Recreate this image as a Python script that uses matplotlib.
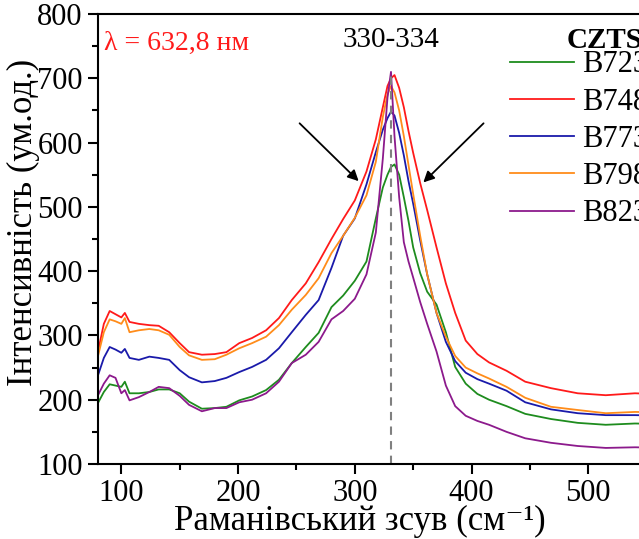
import matplotlib
matplotlib.use("Agg")
import matplotlib.pyplot as plt

plt.rcParams['font.family'] = ['Liberation Serif', 'DejaVu Serif']

# Raman shift, cm-1
x = [80, 85, 90, 95, 100, 103, 107, 115, 124, 132, 141, 150, 158, 169, 180, 190,
     201, 212, 224, 235, 246, 258, 269, 280, 290, 300, 310, 318, 324, 328, 331, 334,
     338, 342, 346, 350, 356, 362, 370, 378, 386, 395, 405, 415, 430, 446, 468, 491,
     515, 540, 570, 600]

b723 = [195, 212, 224, 222, 220, 228, 210, 210, 212, 216, 216, 210, 197, 186, 187, 189,
        199, 205, 215, 231, 257, 282, 304, 344, 362, 385, 415, 482, 530, 550, 562, 566,
        550, 515, 478, 437, 397, 368, 348, 305, 251, 225, 209, 200, 190, 178, 170, 164,
        161, 163, 162, 162]
b748 = [275, 318, 338, 333, 328, 335, 321, 318, 316, 315, 305, 288, 274, 270, 271, 274,
        288, 296, 308, 327, 355, 381, 414, 450, 481, 510, 555, 605, 655, 688, 700, 705,
        685, 655, 618, 584, 537, 495, 437, 381, 335, 292, 271, 258, 245, 228, 218, 210,
        207, 210, 208, 207]
b773 = [238, 265, 282, 278, 273, 279, 265, 262, 267, 265, 262, 246, 235, 227, 229, 234,
        243, 251, 262, 280, 305, 332, 355, 405, 455, 482, 535, 585, 620, 638, 648, 642,
        615, 580, 540, 505, 448, 395, 335, 290, 260, 242, 232, 225, 214, 196, 185, 179,
        176, 176, 175, 175]
b798 = [268, 305, 325, 322, 318, 327, 305, 308, 310, 308, 301, 282, 269, 262, 263, 270,
        280, 288, 298, 316, 340, 363, 389, 428, 455, 483, 518, 570, 640, 675, 688, 678,
        650, 610, 565, 520, 455, 395, 335, 298, 268, 250, 241, 233, 220, 203, 189, 184,
        179, 181, 180, 180]
b823 = [207, 225, 238, 234, 210, 215, 199, 204, 212, 220, 218, 206, 192, 182, 187, 187,
        196, 200, 210, 228, 257, 270, 290, 325, 338, 357, 395, 460, 575, 670, 710, 610,
        515, 445, 415, 390, 352, 318, 275, 222, 190, 175, 167, 161, 150, 140, 133, 128,
        125, 126, 125, 125]

series = [("B723", b723, '#1e8c1e'),
          ("B748", b748, '#ff1a1a'),
          ("B773", b773, '#1a1aaa'),
          ("B798", b798, '#ff8c1a'),
          ("B823", b823, '#8c1a8c')]

fig = plt.figure(figsize=(6.39, 5.39), dpi=100)
ax = fig.add_axes([98 / 639, 75 / 539, 607 / 639, 450 / 539])

for name, y, c in series:
    ax.plot(x, y, color=c, lw=1.3, label=name)

ax.plot([331, 331], [100, 712], color='gray', lw=1.5, ls=(0, (4, 3)))

ax.annotate('', xy=(305, 537), xytext=(251, 633),
            arrowprops=dict(arrowstyle='-|>', color='black', lw=1.3, mutation_scale=16))
ax.annotate('', xy=(357, 535), xytext=(412, 633),
            arrowprops=dict(arrowstyle='-|>', color='black', lw=1.3, mutation_scale=16))

ax.text(331, 760, '330-334', fontsize=21, ha='center', va='center')
ax.text(85, 754, 'λ = 632,8 нм', fontsize=20, color='#ff1a1a', ha='left', va='center')
fig.text(567 / 639, 1 - 40 / 539, 'CZTS', fontsize=21, fontweight='bold',
         ha='left', va='center')

ax.set_xlim(80, 600)
ax.set_ylim(100, 800)
ax.set_xticks([100, 200, 300, 400, 500, 600])
ax.set_xticks([150, 250, 350, 450, 550], minor=True)
ax.set_yticks(range(100, 801, 100))
ax.set_yticks(range(150, 800, 100), minor=True)
ax.tick_params(which='major', direction='out', length=7, width=1.5, labelsize=22)
ax.tick_params(axis='x', which='major', pad=4)
ax.tick_params(axis='y', which='major', pad=4)
ax.tick_params(which='minor', direction='out', length=4, width=1.5)
for s in ax.spines.values():
    s.set_linewidth(1.5)

ax.set_xlabel('Раманівський зсув (см⁻¹)', fontsize=25, va='baseline')
ax.xaxis.set_label_coords((360 - 98) / 607, -(530 - 464) / 450)
ax.set_ylabel('Інтенсивність (ум.од.)', fontsize=25)
ax.yaxis.set_label_coords(-(98 - 40) / 607, (464 - 222) / 450)

leg = ax.legend(loc='upper left', bbox_to_anchor=(495 / 639, 1 - 35 / 539),
                bbox_transform=fig.transFigure, frameon=False, fontsize=22,
                handlelength=2.1, handletextpad=0.25, labelspacing=0.27,
                borderpad=0)

fig.savefig('out.png', dpi=100)
